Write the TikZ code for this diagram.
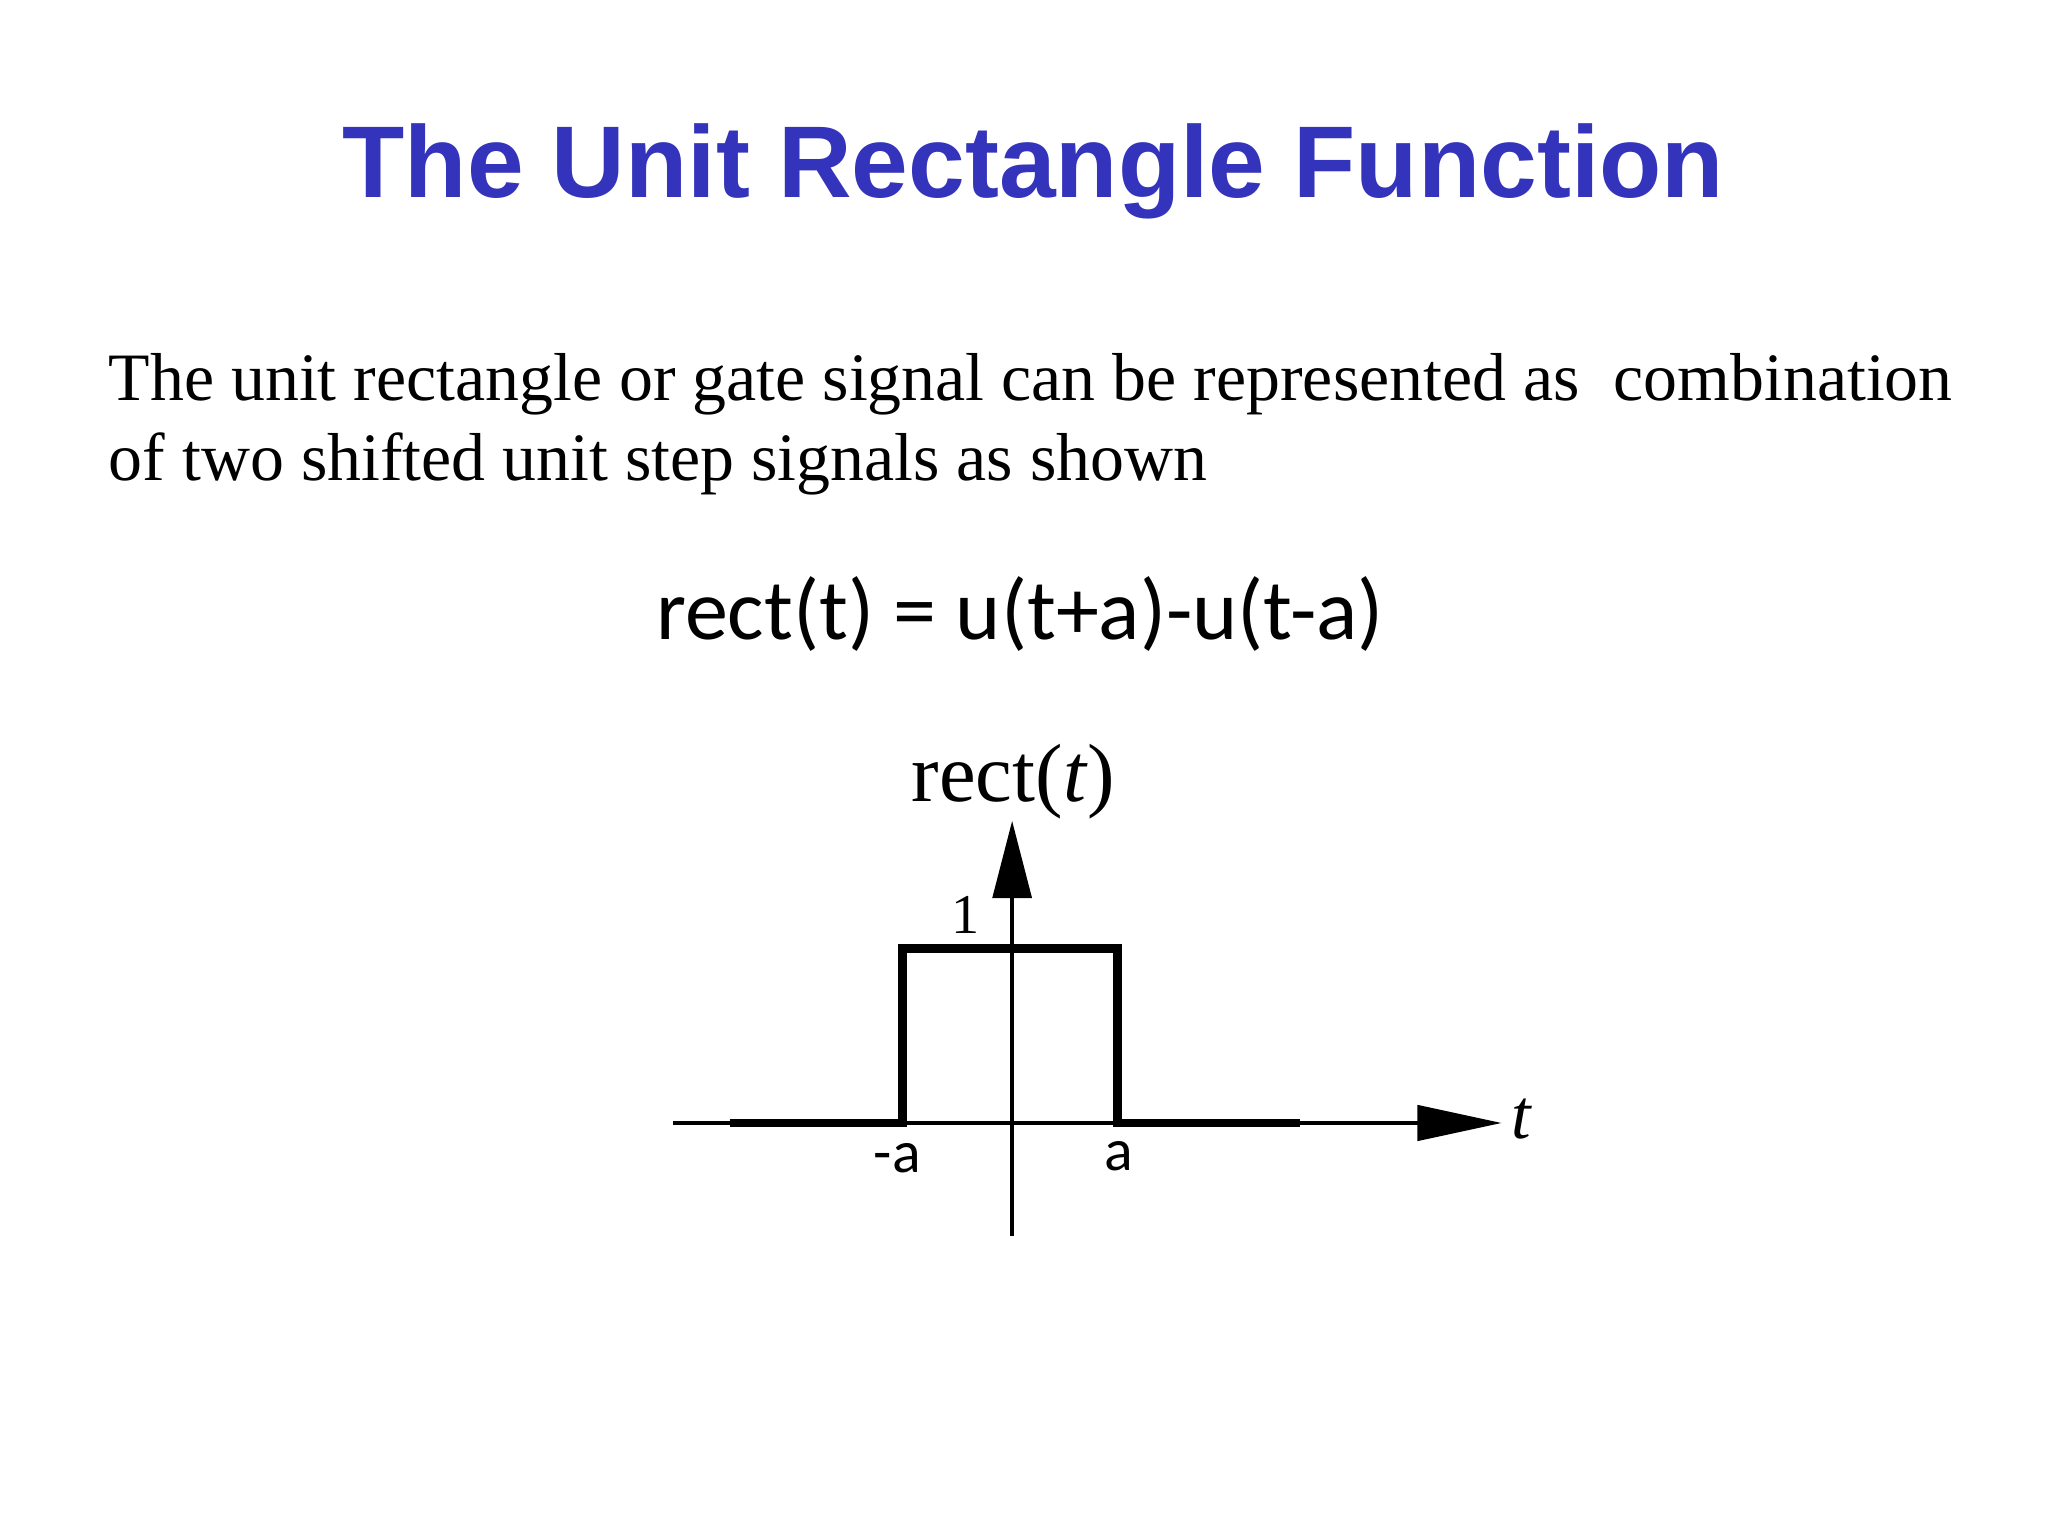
\documentclass[tikz,border=0pt]{standalone}
\usepackage{fontspec}
\setmainfont{Liberation Serif}
\setsansfont{Liberation Sans}
\newfontfamily\calib{Carlito}
\usetikzlibrary{arrows.meta}
\definecolor{titleblue}{RGB}{51,51,187}
\tikzset{px/.style={x=0.013196cm,y=-0.013196cm}}
\begin{document}
\begin{tikzpicture}[px]
\useasboundingbox[fill=white] (0,0) rectangle (1552,1164);
\node (title) at (783,130) {\fontsize{29}{34}\selectfont\sffamily\bfseries\color{titleblue}The Unit Rectangle Function};
\node[anchor=north west,inner sep=0,align=left,font=\fontsize{19.3}{23}\selectfont] (para) at (82,267) {The unit rectangle or gate signal can be represented as\ \ combination\\of two shifted unit step signals as shown};
\node (eq) at (773,465) {\fontsize{24.5}{28}\selectfont\calib rect(t) = u(t+a)-u(t-a)};
% axes
\coordinate (hl) at (510,851);
\coordinate (hr) at (1138,851);
\draw[line width=1.2pt,-{Triangle[length=24pt,width=10pt]}] (hl) -- (hr);
\coordinate (vb) at (767,937);
\coordinate (vt) at (767,622);
\draw[line width=1.2pt,-{Triangle[length=22pt,width=11pt]}] (vb) -- (vt);
\coordinate (b1) at (553,851);
\coordinate (b2) at (985,851);
\draw[line width=2.5pt] (b1) -- (684,851) -- (684,719) -- (847,719) -- (847,851) -- (b2);
\node (tl) at (1153,848) {\fontsize{20}{24}\selectfont\itshape t};
\node (one) at (732,693) {\fontsize{16}{20}\selectfont 1};
\node (rl) at (768,592) {\fontsize{23.5}{28}\selectfont rect(\textit{t})};
\node (ma) at (680,878) {\fontsize{17}{20}\selectfont\calib -a};
\node (pa) at (848,876) {\fontsize{17}{20}\selectfont\calib a};
\end{tikzpicture}
\end{document}
